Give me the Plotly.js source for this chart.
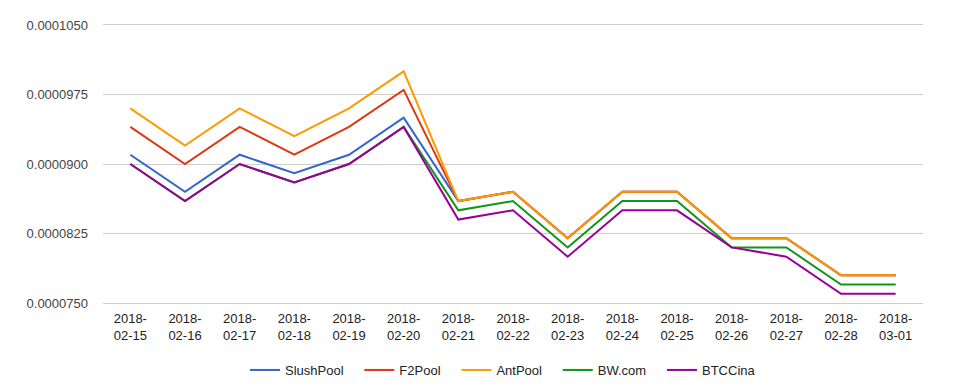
<!DOCTYPE html>
<html>
<head>
<meta charset="utf-8">
<script src="https://cdn.plot.ly/plotly-3.0.1.min.js"></script>
<style>html,body{margin:0;padding:0;background:#fff;}#chart{width:978px;height:388px;}</style>
</head>
<body>
<div id="chart"></div>
<script>
const categories = ["2018-02-15","2018-02-16","2018-02-17","2018-02-18","2018-02-19","2018-02-20","2018-02-21","2018-02-22","2018-02-23","2018-02-24","2018-02-25","2018-02-26","2018-02-27","2018-02-28","2018-03-01"];
const tickLabels = ["2018-<br>02-15","2018-<br>02-16","2018-<br>02-17","2018-<br>02-18","2018-<br>02-19","2018-<br>02-20","2018-<br>02-21","2018-<br>02-22","2018-<br>02-23","2018-<br>02-24","2018-<br>02-25","2018-<br>02-26","2018-<br>02-27","2018-<br>02-28","2018-<br>03-01"];
const slushPool = [0.0000910,0.0000870,0.0000910,0.0000890,0.0000910,0.0000950,0.0000860,0.0000870,0.0000820,0.0000870,0.0000870,0.0000820,0.0000820,0.0000780,0.0000780];
const f2Pool    = [0.0000940,0.0000900,0.0000940,0.0000910,0.0000940,0.0000980,0.0000860,0.0000870,0.0000820,0.0000870,0.0000870,0.0000820,0.0000820,0.0000780,0.0000780];
const antPool   = [0.0000960,0.0000920,0.0000960,0.0000930,0.0000960,0.0001000,0.0000860,0.0000870,0.0000820,0.0000870,0.0000870,0.0000820,0.0000820,0.0000780,0.0000780];
const bwCom     = [0.0000900,0.0000860,0.0000900,0.0000880,0.0000900,0.0000940,0.0000850,0.0000860,0.0000810,0.0000860,0.0000860,0.0000810,0.0000810,0.0000770,0.0000770];
const btcCina   = [0.0000900,0.0000860,0.0000900,0.0000880,0.0000900,0.0000940,0.0000840,0.0000850,0.0000800,0.0000850,0.0000850,0.0000810,0.0000800,0.0000760,0.0000760];
const seriesNames = ["SlushPool","F2Pool","AntPool","BW.com","BTCCina"];
const seriesData = [slushPool, f2Pool, antPool, bwCom, btcCina];
const colors = ["#3366cc","#dc3912","#ff9900","#109618","#990099"];
const yTicks = [0.0000750,0.0000825,0.0000900,0.0000975,0.0001050];

const pad = "\u00a0\u00a0\u00a0";
const traces = seriesData.map((d,i)=>({
  type:"scatter", mode:"lines", name:seriesNames[i] + (i < seriesNames.length-1 ? pad : ""), x:categories, y:d,
  line:{color:colors[i], width:2}
}));

const layout = {
  width:978, height:388,
  margin:{l:103, r:55, t:23, b:83, autoexpand:false},
  paper_bgcolor:"#fff", plot_bgcolor:"#fff",
  font:{family:"Arial, 'Liberation Sans', sans-serif", size:13, color:"#222"},
  showlegend:true,
  legend:{orientation:"h", x:0.4878, xanchor:"center", y:-0.2305, yanchor:"middle", font:{size:13,color:"#222"}, itemwidth:30},
  xaxis:{type:"category", range:[-0.5,14.5], tickvals:categories, ticktext:tickLabels, showgrid:false, zeroline:false, showline:false, ticks:"", ticklabelstandoff:4, tickfont:{size:13,color:"#222"}},
  yaxis:{range:[0.000074785,0.000105215], tickvals:yTicks, ticktext:yTicks.map(v=>v.toFixed(7)), showgrid:true, gridcolor:"#cccccc", gridwidth:1, zeroline:false, showline:false, ticks:"", ticklabelstandoff:14, tickfont:{size:13,color:"#444"}}
};
Plotly.newPlot("chart", traces, layout, {displayModeBar:false, staticPlot:true});
</script>
</body>
</html>
